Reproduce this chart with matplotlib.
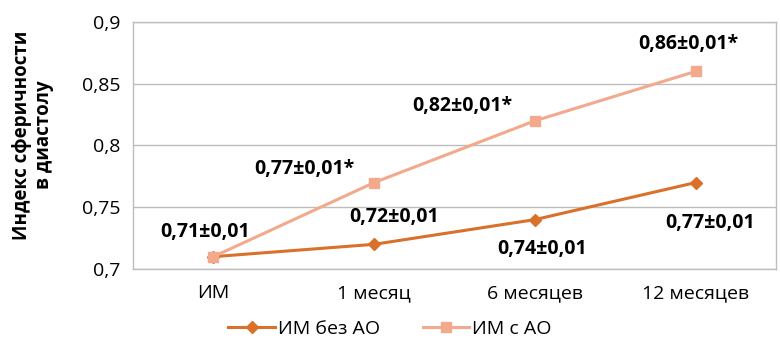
import matplotlib
matplotlib.use("Agg")
import matplotlib.pyplot as plt

plt.rcParams['font.family'] = ['Open Sans', 'DejaVu Sans']

# Data
categories = ["ИМ", "1 месяц", "6 месяцев", "12 месяцев"]
no_ao = [0.71, 0.72, 0.74, 0.77]
with_ao = [0.71, 0.77, 0.82, 0.86]
no_ao_labels = ["0,71±0,01", "0,72±0,01", "0,74±0,01", "0,77±0,01"]
with_ao_labels = ["", "0,77±0,01*", "0,82±0,01*", "0,86±0,01*"]
yticks = [0.7, 0.75, 0.8, 0.85, 0.9]
ytick_labels = ["0,7", "0,75", "0,8", "0,85", "0,9"]

c_dark = "#D9712B"
c_light = "#F2A98C"
grid_c = "#BDBDBD"

fig = plt.figure(figsize=(7.8, 3.46), dpi=100)
ax = fig.add_axes([0.1705, 0.2225, 0.8245, 0.714])

x = list(range(len(categories)))
ax.plot(x, no_ao, color=c_dark, lw=2.2, marker="D", ms=6, label="ИМ без АО", zorder=3)
ax.plot(x, with_ao, color=c_light, lw=2.2, marker="s", ms=7.5, label="ИМ с АО", zorder=3)

# value labels (offsets in points from each marker)
no_ao_off = [(-6, 18), (14, 20), (5, -21), (10, -29)]
with_ao_off = [(0, 0), (-50, 10), (-52, 11), (-5, 20)]
for i in x:
    ax.annotate(no_ao_labels[i], (i, no_ao[i]), xytext=no_ao_off[i], textcoords="offset points",
                ha="center", va="center", fontsize=14, fontweight="bold")
    if with_ao_labels[i]:
        ax.annotate(with_ao_labels[i], (i, with_ao[i]), xytext=with_ao_off[i], textcoords="offset points",
                    ha="center", va="center", fontsize=14, fontweight="bold")

ax.set_xlim(-0.5, 3.5)
ax.set_ylim(0.7, 0.9)
ax.set_xticks(x)
ax.set_xticklabels(categories, fontsize=14)
ax.set_yticks(yticks)
ax.set_yticklabels(ytick_labels, fontsize=14)
ax.tick_params(length=0, pad=11)
ax.tick_params(axis="y", pad=9)
ax.yaxis.grid(True, color=grid_c, lw=1)
ax.set_axisbelow(True)
for s in ax.spines.values():
    s.set_color(grid_c)
    s.set_linewidth(1)

fig.text(0.042, 0.61, "Индекс сферичности\nв диастолу", rotation=90, ha="center", va="center",
         fontsize=13.5, fontweight="bold", linespacing=1.15)

fig.legend(loc="center", bbox_to_anchor=(0.5, 0.05), ncol=2, frameon=False, fontsize=14,
           handlelength=2.4, columnspacing=2.2, handletextpad=0.15)

fig.savefig("out.png", dpi=100)
